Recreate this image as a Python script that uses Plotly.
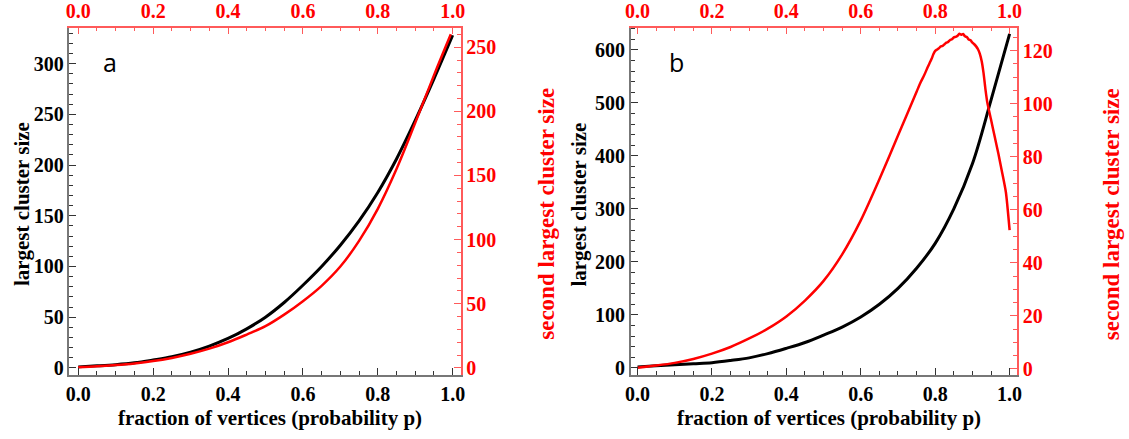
import plotly.graph_objects as go

# ---------------- data ----------------
p_a = [0.0, 0.05, 0.1, 0.15, 0.2, 0.25, 0.3, 0.35, 0.4, 0.45, 0.5, 0.55, 0.6,
       0.65, 0.7, 0.75, 0.8, 0.85, 0.9, 0.95, 1.0]
largest_a = [1, 2, 3.2, 5, 7.8, 11, 15.5, 21.5, 29, 38.5, 50, 64.5, 81.5,
             100, 121, 145, 173, 206, 244, 285, 328]
p_a2 = [0.0, 0.05, 0.1, 0.15, 0.2, 0.25, 0.3, 0.35, 0.4, 0.45, 0.5, 0.55, 0.6,
        0.65, 0.7, 0.75, 0.8, 0.85, 0.9, 0.95, 0.995]
second_a = [0.5, 1.2, 2.2, 3.5, 5.3, 7.8, 11, 15, 20, 26, 32.5, 41.5, 52,
            64, 79, 99, 124, 155, 191, 228, 260]

p_b = [0.0, 0.05, 0.1, 0.15, 0.2, 0.25, 0.3, 0.35, 0.4, 0.45, 0.5, 0.55, 0.6,
       0.65, 0.7, 0.75, 0.8, 0.85, 0.9, 0.95, 1.0]
largest_b = [2, 4, 6, 8, 10, 14, 19, 27, 37, 48, 62, 77, 96,
             120, 150, 188, 235, 300, 385, 505, 630]
p_b2 = [0.0, 0.05, 0.1, 0.15, 0.2, 0.25, 0.3, 0.35, 0.4, 0.45, 0.5, 0.55, 0.6,
        0.65, 0.7, 0.75, 0.76, 0.77, 0.78, 0.79, 0.795, 0.8, 0.805, 0.81,
        0.815, 0.82, 0.825, 0.83, 0.835, 0.84, 0.845, 0.85, 0.855, 0.86,
        0.865, 0.87, 0.875, 0.88, 0.885, 0.89, 0.895, 0.9, 0.905, 0.91,
        0.915, 0.92, 0.925, 0.93, 0.935, 0.94, 0.95, 0.96, 0.97, 0.98,
        0.99, 1.0]
second_b = [0.5, 1.3, 2.3, 3.8, 5.8, 8.3, 11.5, 15.2, 19.8, 25.8, 33.2, 43.2, 56,
            71.5, 88, 104.5, 107.8, 110.6, 113.8, 116.8, 118.6, 119.9, 120.4, 120.9,
            121.6, 121.8, 122.4, 123.0, 123.3, 124.0, 124.3, 125.0, 125.2, 125.6,
            126.4, 126.0, 126.3, 125.4, 125.1, 124.2, 123.9, 123.0, 122.4, 121.6,
            120.5, 118.8, 116.0, 111.5, 105.5, 100.5, 94, 87.5, 81, 74, 66.6, 52.3]

# ---------------- figure ----------------
RED = "#ff0000"
AX_RED = "#ff5a5a"
GREY = "#777777"
SERIF = "Liberation Serif, Times New Roman, serif"

W, H = 1129, 439


def px(X):
    return X / W


def py(Y):
    return 1 - Y / H


fig = go.Figure()
fig.add_trace(go.Scatter(x=p_a, y=largest_a, mode="lines", line=dict(color="black", width=3, shape="spline"),
                         xaxis="x", yaxis="y", showlegend=False))
fig.add_trace(go.Scatter(x=p_a2, y=second_a, mode="lines", line=dict(color=RED, width=2.5, shape="spline"),
                         xaxis="x2", yaxis="y2", showlegend=False))
fig.add_trace(go.Scatter(x=p_b, y=largest_b, mode="lines", line=dict(color="black", width=3, shape="spline"),
                         xaxis="x3", yaxis="y3", showlegend=False))
fig.add_trace(go.Scatter(x=p_b2, y=second_b, mode="lines",
                         line=dict(color=RED, width=2.5, shape="spline", smoothing=0.6),
                         xaxis="x4", yaxis="y4", showlegend=False))

dom_a = [px(64), px(459)]
dom_b = [px(631), px(1021)]
dom_y = [py(379), py(25)]

tick_black = dict(family=SERIF, size=20, color="black", weight="bold")
tick_red = dict(family=SERIF, size=20, color=RED, weight="bold")
xticks = [0, 0.2, 0.4, 0.6, 0.8, 1.0]
xtext = ["0.0", "0.2", "0.4", "0.6", "0.8", "1.0"]


def xax(dom, rng, anchor, top=False, overlay=None):
    d = dict(domain=dom, range=rng, anchor=anchor, showgrid=False, zeroline=False,
             showline=True, linewidth=1.5, ticks="inside", ticklen=7, tickwidth=1.3,
             tickvals=xticks, ticktext=xtext, fixedrange=True, ticklabelstandoff=0,
             minor=dict(dtick=0.05, tick0=0, ticks="inside", ticklen=4, tickwidth=1))
    if top:
        d.update(side="top", overlaying=overlay, linecolor=AX_RED, tickcolor=AX_RED,
                 tickfont=tick_red)
        d["minor"]["tickcolor"] = AX_RED
    else:
        d.update(side="bottom", linecolor=GREY, tickcolor="#333333", tickfont=tick_black)
        d["minor"]["tickcolor"] = "#333333"
    return d


def yax(rng, dtick, minor, anchor, right=False, overlay=None):
    d = dict(domain=dom_y, range=rng, anchor=anchor, showgrid=False, zeroline=False,
             showline=True, linewidth=1.5, ticks="inside", ticklen=7, tickwidth=1.3,
             dtick=dtick, tick0=0, fixedrange=True, ticklabelstandoff=0,
             minor=dict(dtick=minor, tick0=0, ticks="inside", ticklen=4, tickwidth=1))
    if right:
        d.update(side="right", overlaying=overlay, linecolor=AX_RED, tickcolor=AX_RED,
                 tickfont=tick_red)
        d["minor"]["tickcolor"] = AX_RED
    else:
        d.update(side="left", linecolor=GREY, tickcolor="#333333", tickfont=tick_black)
        d["minor"]["tickcolor"] = "#333333"
    return d


fig.update_layout(
    width=W, height=H,
    margin=dict(l=0, r=0, t=0, b=0),
    paper_bgcolor="white", plot_bgcolor="white",
    xaxis=xax(dom_a, [-0.0237, 1.021], "y"),
    xaxis2=xax(dom_a, [-0.0237, 1.021], "y", top=True, overlay="x"),
    yaxis=yax([-7.1, 335.6], 50, 10, "x"),
    yaxis2=yax([-5.6, 265.3], 50, 10, "x", right=True, overlay="y"),
    xaxis3=xax(dom_b, [-0.018, 1.020], "y3"),
    xaxis4=xax(dom_b, [-0.018, 1.020], "y3", top=True, overlay="x3"),
    yaxis3=yax([-13.5, 642], 100, 20, "x3"),
    yaxis4=yax([-2.3, 128.7], 20, 5, "x3", right=True, overlay="y3"),
)

title_font_b = dict(family=SERIF, size=21, color="black", weight="bold")
vtitle_b = dict(family=SERIF, size=21, color="black", weight="bold")
vtitle_r = dict(family=SERIF, size=23, color=RED, weight="bold")
ann = [
    dict(text="fraction of vertices (probability p)", x=px((64 + 459) / 2 + 5), y=py(423),
         font=title_font_b),
    dict(text="fraction of vertices (probability p)", x=px((631 + 1021) / 2 + 5), y=py(423),
         font=title_font_b),
    dict(text="largest cluster size", x=px(16), y=py(205), textangle=-90, font=vtitle_b),
    dict(text="largest cluster size", x=px(579), y=py(205), textangle=-90, font=vtitle_b),
    dict(text="second largest cluster size", x=px(545), y=py(215), textangle=-90,
         font=vtitle_r),
    dict(text="second largest cluster size", x=px(1116), y=py(215), textangle=-90,
         font=vtitle_r),
    dict(text="a", x=px(105), y=py(60), font=dict(family="Open Sans, sans-serif", size=25, color="black")),
    dict(text="b", x=px(677), y=py(60), font=dict(family="Open Sans, sans-serif", size=25, color="black")),
]
for a in ann:
    a.update(xref="paper", yref="paper", showarrow=False, xanchor="center", yanchor="middle")
fig.update_layout(annotations=ann)

# remove the default 8 px page margin so the figure fills the window exactly
fig.write_html("out.html", config={"displayModeBar": False},
               post_script="document.body.style.margin='0';")
